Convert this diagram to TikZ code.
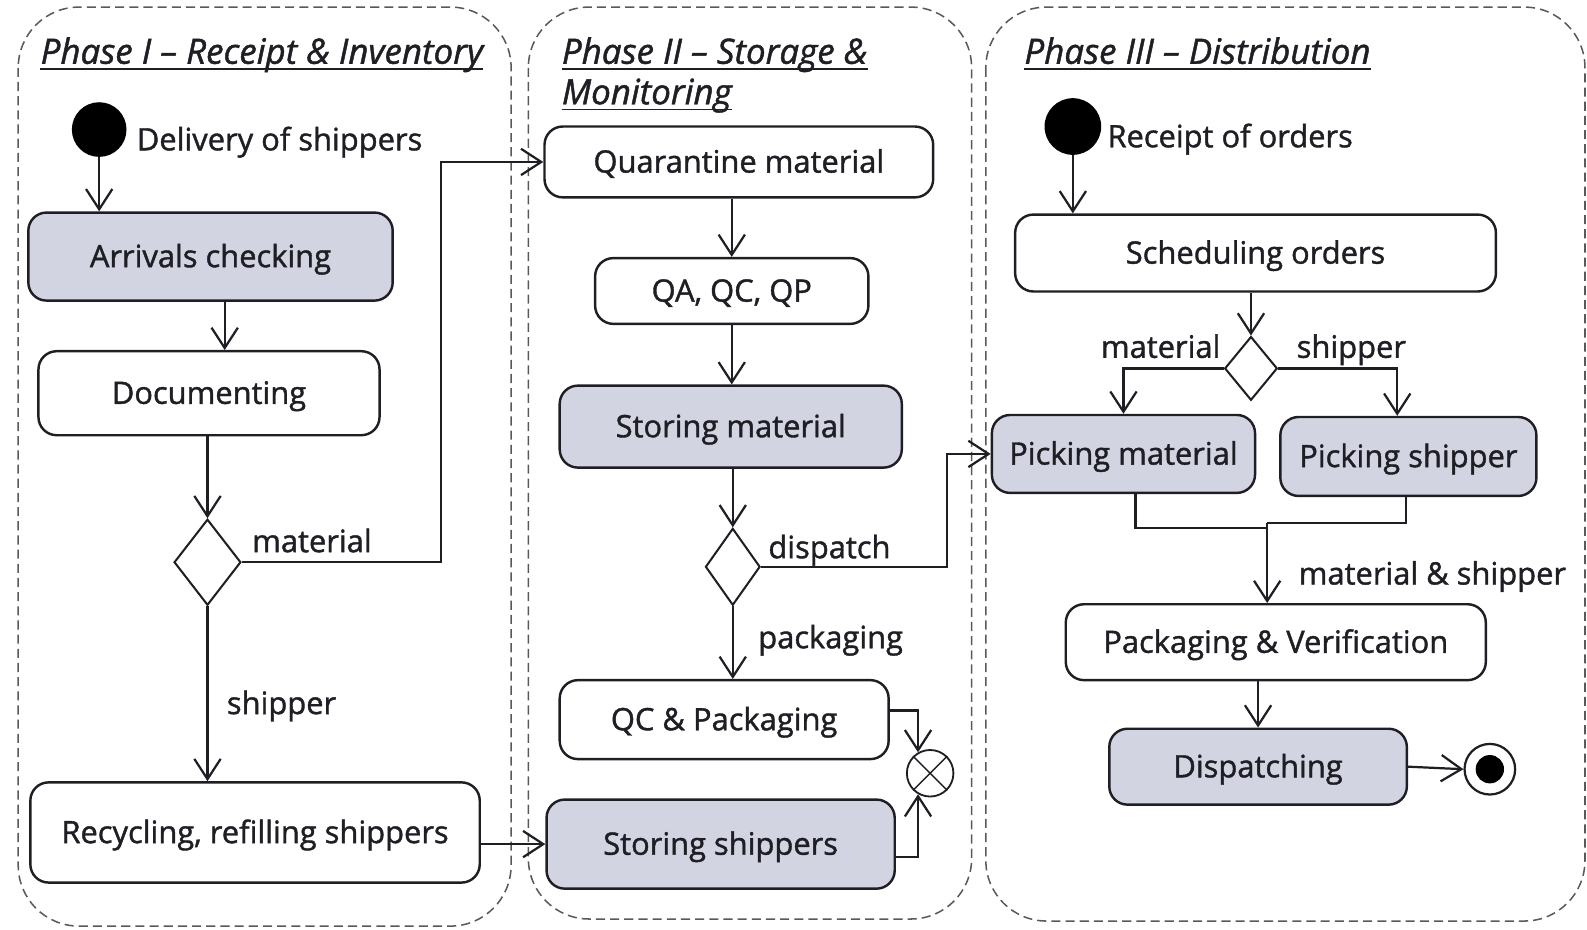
\documentclass[tikz,border=0pt]{standalone}
\usepackage{fontspec}
\setmainfont{Open Sans}[FakeBold=1.3]
\usetikzlibrary{arrows.meta,shapes.geometric,calc}
\definecolor{actfill}{RGB}{210,213,225}
\definecolor{ink}{RGB}{30,30,36}
\newcommand\dtxt{\fontsize{30.5}{35}\selectfont}
\newcommand\ttxt{\fontsize{34.5}{40}\selectfont}
\tikzset{
  lane/.style={draw=black!65, dash pattern=on 9pt off 5pt, line width=1.5pt, rounded corners=60pt},
  act/.style={draw=ink, line width=2.4pt, rounded corners=18pt, inner sep=0pt, font=\dtxt, text=ink, text height=21pt, text depth=0pt},
  actf/.style={act, fill=actfill},
  dec/.style={draw=ink, line width=2pt, shape=diamond, inner sep=0pt, fill=white},
  flow/.style={draw=ink, line width=2.2pt, -{Straight Barb[length=20pt,width=26pt]}},
  plain/.style={draw=ink, line width=2.2pt},
  lbl/.style={inner sep=0pt, font=\dtxt, text=ink, text height=21pt, text depth=0pt},
  ttl/.style={inner sep=0pt, font=\ttxt\itshape, text=ink, anchor=base west},
  ulin/.style={draw=ink, line width=1.6pt},
}
\begin{document}
\begin{tikzpicture}[x=1pt,y=-1pt]
\useasboundingbox (0,0) rectangle (1568,918);
% lanes
\draw[lane] (18,7) rectangle (505,915);
\draw[lane] (522,7) rectangle (960,908);
\draw[lane] (974,7) rectangle (1566,910);
% titles
\node[ttl] (t1) at (40,63) {Phase I -- Receipt \& Inventory};
\draw[ulin] ([yshift=-5pt]t1.base west) -- ([yshift=-5pt]t1.base east);
\node[ttl] (t2a) at (555,63) {Phase II -- Storage \&};
\draw[ulin] ([yshift=-5pt]t2a.base west) -- ([yshift=-5pt]t2a.base east);
\node[ttl] (t2b) at (555,103) {Monitoring};
\draw[ulin] ([yshift=-5pt]t2b.base west) -- ([yshift=-5pt]t2b.base east);
\node[ttl] (t3) at (1012,63) {Phase III -- Distribution};
\draw[ulin] ([yshift=-5pt]t3.base west) -- ([yshift=-5pt]t3.base east);

% Phase I
\node[circle, fill=black, minimum size=54pt, inner sep=0pt] (s1) at (98,128) {};
\node[lbl, anchor=west] (l1) at (135,138) {Delivery of shippers};
\node[actf, minimum width=360pt, minimum height=87pt] (arr) at (208,253.5) {Arrivals checking};
\node[act, minimum width=337pt, minimum height=83pt] (doc) at (206.5,388.5) {Documenting};
\node[dec, minimum width=66pt, minimum height=85pt] (d1) at (205,555.5) {};
\node[lbl, anchor=west] (l2) at (249,535) {material};
\node[lbl, anchor=west] (l3) at (224,695) {shipper};
\node[act, minimum width=444pt, minimum height=99pt] (rec) at (252,822.5) {Recycling, refilling shippers};

% Phase II
\node[act, minimum width=384pt, minimum height=70pt] (quar) at (730,160) {Quarantine material};
\node[act, minimum width=270pt, minimum height=65pt] (qa) at (723,287.5) {QA, QC, QP};
\node[actf, minimum width=338pt, minimum height=81pt] (stm) at (722,421.5) {Storing material};
\node[dec, minimum width=54pt, minimum height=76pt] (d2) at (724,560) {};
\node[lbl, anchor=west] (l4) at (759,541) {dispatch};
\node[lbl, anchor=west] (l5) at (749,630) {packaging};
\node[act, minimum width=325pt, minimum height=78pt] (qcp) at (715.5,711) {QC \& Packaging};
\node[actf, minimum width=344pt, minimum height=88pt] (sts) at (712,834) {Storing shippers};
\node[circle, draw=ink, line width=1.8pt, minimum size=46pt, inner sep=0pt] (mg) at (919,764) {};
\draw[draw=ink, line width=1.5pt] (mg.45) -- (mg.225) (mg.135) -- (mg.315);

% Phase III
\node[circle, fill=black, minimum size=56pt, inner sep=0pt] (s3) at (1060,125) {};
\node[lbl, anchor=west] (l6) at (1094,135) {Receipt of orders};
\node[act, minimum width=475pt, minimum height=76pt] (sch) at (1240.5,250) {Scheduling orders};
\node[dec, minimum width=52pt, minimum height=63pt] (d3) at (1236,364) {};
\node[lbl, anchor=east] (l7) at (1206,343) {material};
\node[lbl, anchor=west] (l8) at (1281,343) {shipper};
\node[actf, minimum width=260pt, minimum height=77pt] (pm) at (1110,448.5) {Picking material};
\node[actf, minimum width=253pt, minimum height=78pt] (ps) at (1391.5,451) {Picking shipper};
\node[lbl, anchor=west] (l9) at (1283,567) {material \& shipper};
\node[act, minimum width=415pt, minimum height=75pt] (pv) at (1260.5,634.5) {Packaging \& Verification};
\node[actf, minimum width=294pt, minimum height=75pt] (dsp) at (1243,757.5) {Dispatching};
\node[circle, draw=ink, line width=2.2pt, minimum size=50pt, inner sep=0pt] (fin) at (1472,760) {};
\node[circle, fill=black, minimum size=28pt, inner sep=0pt] (fini) at (fin) {};

% coordinates
\coordinate (c1) at (436,0);
\coordinate (c2) at (936,0);
\coordinate (j1) at (1252,522);
\coordinate (j2) at (1252,517);

% connectors Phase I
\draw[flow] (s1.south) -- (s1.south |- arr.north);
\draw[flow] ([xshift=14pt]arr.south) -- ([xshift=14pt]arr.south |- doc.north);
\draw[flow] (d1.north |- doc.south) -- (d1.north);
\draw[flow] (d1.east) -| (c1 |- quar.west) -- (quar.west);
\draw[flow] (d1.south) -- (d1.south |- rec.north);
\draw[flow] (rec.east |- sts.west) -- (sts.west);

% connectors Phase II
\draw[flow] (qa.north |- quar.south) -- (qa.north);
\draw[flow] (qa.south) -- (qa.south |- stm.north);
\draw[flow] (d2.north |- stm.south) -- (d2.north);
\draw[flow] (d2.east) -| (c2 |- pm.west) -- (pm.west);
\draw[flow] (d2.south) -- (d2.south |- qcp.north);
\draw[flow] ([yshift=9pt]qcp.east) -| (mg.120);
\draw[flow] ([yshift=-13pt]sts.east) -| (mg.240);

% connectors Phase III
\draw[flow] (s3.south) -- (s3.south |- sch.north);
\draw[flow] (d3.north |- sch.south) -- (d3.north);
\draw[flow] (d3.west) -| (pm.north);
\draw[flow] (d3.east) -| ([xshift=-11pt]ps.north);
\draw[plain] ([xshift=12pt]pm.south) |- (j1);
\draw[plain] ([xshift=-2pt]ps.south) |- (j2);
\draw[flow] (j2) -- (j2 |- pv.north);
\draw[flow] (dsp.north |- pv.south) -- (dsp.north);
\draw[flow] (dsp.east) -- (fin.west);
\end{tikzpicture}
\end{document}
